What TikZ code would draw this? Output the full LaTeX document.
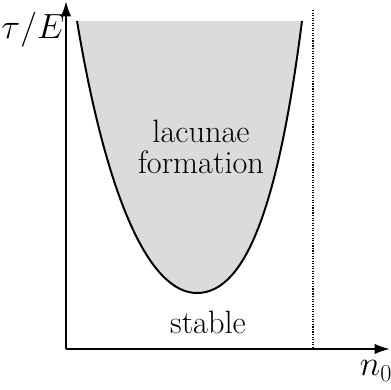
\documentclass[tikz,border=0pt]{standalone}
\usetikzlibrary{arrows.meta}
\tikzset{axis/.style={line width=1.5pt,-{Latex[length=11pt,width=7.5pt]}},
	lobe/.style={line width=1.4pt,fill=black!14}}
\begin{document}
\begin{tikzpicture}[x=0.025cm,y=-0.025cm,font=\fontsize{23}{21.5}\selectfont]
					\useasboundingbox (0,0) rectangle (391,390);
					\coordinate (O) at (66,349);
					\coordinate (ytop) at (66,1);
					\coordinate (xend) at (390,349);
					\coordinate (dtop) at (313,10);
					\coordinate (dbot) at (313,349);
					\coordinate (tl) at (77,21);
					\coordinate (tr) at (302,21);
					\coordinate (vx) at (197,293);
					\fill[black!14] (tl) .. controls (107,201) and (150,293) .. (vx) .. controls (247,293) and (279,201) .. (tr) -- cycle;
					\draw[line width=1.4pt] (tl) .. controls (107,201) and (150,293) .. (vx) .. controls (247,293) and (279,201) .. (tr);
					\draw[densely dotted,line width=0.8pt] (dtop)--(dbot);
					\draw[axis] (O)--(ytop);
					\draw[axis] (O)--(xend);
					\node (tau) at (33,30) {$\tau/E$};
					\node (n0) at (376,371) {$n_0$};
					\node[align=center] (lac) at (201,147) {lacunae\\formation};
					\node (stab) at (208,322) {stable};
				\end{tikzpicture}
\end{document}
